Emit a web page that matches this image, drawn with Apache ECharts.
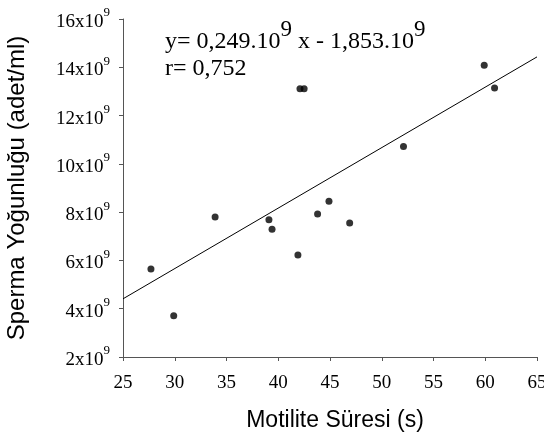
<!DOCTYPE html>
<html>
<head>
<meta charset="utf-8">
<script src="https://cdn.jsdelivr.net/npm/echarts@6/dist/echarts.min.js"></script>
<style>html,body{margin:0;padding:0;background:#fff}#c{width:544px;height:442px}</style>
</head>
<body>
<div id="c"></div>
<script>
// Motility time (s)
var motX = [27.7, 29.9, 33.9, 39.1, 39.4, 41.9, 42.1, 42.5, 43.8, 44.9, 46.9, 52.1, 59.9, 60.9];
// Sperm concentration (x10^9 /ml)
var densY = [5.65, 3.71, 7.8, 7.69, 7.29, 6.23, 13.11, 13.11, 7.92, 8.45, 7.55, 10.72, 14.08, 13.14];
// regression line end points
var fitX = [25, 65];
var fitY = [4.41, 14.43];
var xTicks = [25, 30, 35, 40, 45, 50, 55, 60, 65];
var yTicks = [2, 4, 6, 8, 10, 12, 14, 16];

var serif = '"Liberation Serif","Times New Roman",serif';
var sans = '"Liberation Sans",Arial,sans-serif';
var chart = echarts.init(document.getElementById('c'));
var pts = motX.map(function (x, i) { return [x, densY[i]]; });
var fit = fitX.map(function (x, i) { return [x, fitY[i]]; });
var eqRich = {
  a: { fontFamily: serif, fontSize: 24, fontWeight: 'normal', color: '#000', lineHeight: 36, verticalAlign: 'bottom' },
  s: { fontFamily: serif, fontSize: 23, fontWeight: 'normal', color: '#000', lineHeight: 22, verticalAlign: 'top' },
  b: { fontFamily: serif, fontSize: 24, fontWeight: 'normal', color: '#000', lineHeight: 24 }
};
chart.setOption({
  animation: false,
  backgroundColor: '#fff',
  grid: { left: 123, right: 7, top: 19, bottom: 85, outerBoundsMode: 'none', containLabel: false },
  title: [
    { left: 165, top: 18, padding: 0, text: '{a|y= 0,249.10}{s|9}{a| x - 1,853.10}{s|9}', textStyle: { rich: eqRich } },
    { left: 165, top: 57, padding: 0, text: '{b|r= 0,752}', textStyle: { rich: eqRich } }
  ],
  xAxis: {
    type: 'value', min: xTicks[0], max: xTicks[xTicks.length - 1], interval: 5,
    name: 'Motilite Süresi (s)', nameLocation: 'middle', nameGap: 52,
    nameTextStyle: { fontFamily: sans, fontSize: 23, color: '#000', padding: [0, 0, 0, 10] },
    axisLine: { show: true, onZero: false, lineStyle: { color: '#555', width: 1 } },
    axisTick: { show: true, inside: false, length: 4, lineStyle: { color: '#555' } },
    axisLabel: { margin: 17, fontFamily: serif, fontSize: 19, color: '#000', showMaxLabel: true, showMinLabel: true },
    splitLine: { show: false }
  },
  yAxis: {
    type: 'value', min: yTicks[0], max: yTicks[yTicks.length - 1], interval: 2,
    name: 'Sperma Yoğunluğu (adet/ml)', nameLocation: 'middle', nameGap: 94,
    nameTextStyle: { fontFamily: sans, fontSize: 24, color: '#000' },
    axisLine: { show: true, onZero: false, lineStyle: { color: '#555', width: 1 } },
    axisTick: { show: true, inside: false, length: 4, lineStyle: { color: '#555' } },
    axisLabel: {
      margin: 13,
      formatter: function (v) { return '{a|' + v + 'x10}{s|9}'; },
      rich: {
        a: { fontFamily: serif, fontSize: 19, color: '#000', lineHeight: 25, verticalAlign: 'bottom' },
        s: { fontFamily: serif, fontSize: 13, color: '#000', lineHeight: 13, verticalAlign: 'top' }
      }
    },
    splitLine: { show: false }
  },
  series: [
    {
      type: 'line', data: fit, showSymbol: false, symbol: 'none',
      lineStyle: { color: '#000', width: 1 }, silent: true, z: 1
    },
    {
      type: 'scatter', data: pts, symbol: 'circle', symbolSize: 7,
      itemStyle: { color: '#000' }, z: 2
    }
  ]
});
</script>
</body>
</html>
